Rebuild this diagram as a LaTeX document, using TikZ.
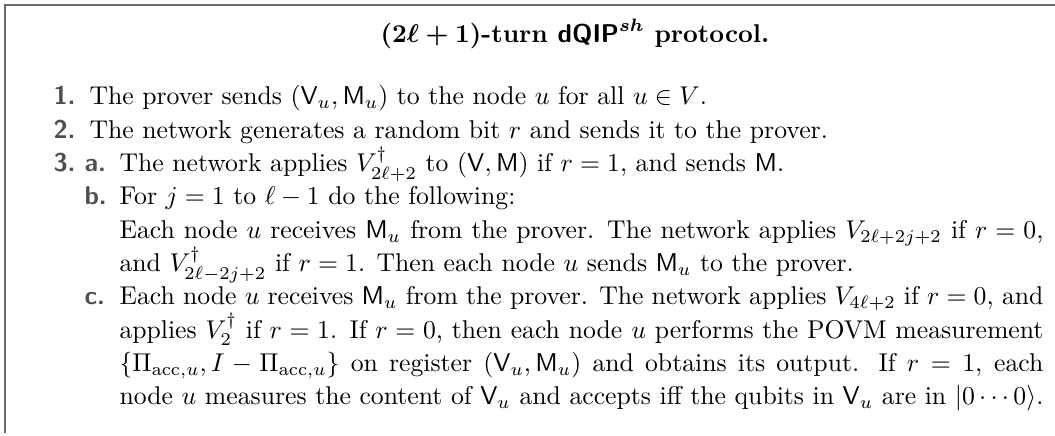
\documentclass[tikz,border=0pt]{standalone}
\usepackage{amsmath,amssymb}
\definecolor{labelgray}{RGB}{80,80,80}
\definecolor{bordergray}{RGB}{105,105,105}
\newcommand{\bodyfont}{\fontsize{10}{12.96}\selectfont}
\newcommand{\parone}[1]{\begin{minipage}[t]{371.2pt}\bodyfont #1\end{minipage}}
\newcommand{\partwo}[1]{\begin{minipage}[t]{359.5pt}\bodyfont #1\end{minipage}}
\begin{document}
\begin{tikzpicture}[x=0.3891pt,y=-0.3891pt,
  lbl/.style={anchor=base west, inner sep=0pt, font=\sffamily\bfseries\fontsize{10}{12}\selectfont, text=labelgray},
  body/.style={anchor=base west, inner sep=0pt},
  frame/.style={draw=bordergray, line width=0.8pt}]
\useasboundingbox (0,0) rectangle (1055,436);
\coordinate (tr) at (1056,5);
\coordinate (tl) at (5,5);
\coordinate (bl) at (5,433);
\draw[frame] (tr) -- (tl) -- (bl);
\node[anchor=base, inner sep=0pt, font=\bfseries\boldmath] (title) at (575,43)
  {($2\ell+1$)-turn $\mathsf{dQIP}^{sh}$ protocol.};
\node[lbl] (l1) at (53,105) {1.};
\node[body] (t1) at (89,105) {\parone{The prover sends $(\mathsf{V}_u,\mathsf{M}_u)$ to the node $u$ for all $u\in V$.}};
\node[lbl] (l2) at (53,138.3) {2.};
\node[body] (t2) at (89,138.3) {\parone{The network generates a random bit $r$ and sends it to the prover.}};
\node[lbl] (l3) at (53,171.6) {3.};
\node[lbl] (la) at (84,171.6) {a.};
\node[body] (ta) at (119,171.6) {\partwo{The network applies $V^\dagger_{2\ell+2}$ to $(\mathsf{V},\mathsf{M})$ if $r=1$, and sends $\mathsf{M}$.}};
\node[lbl] (lb) at (84,205) {b.};
\node[body] (tb) at (119,205) {\partwo{For $j=1$ to $\ell-1$ do the following:\\
Each node $u$ receives $\mathsf{M}_u$ from the prover. The network applies $V_{2\ell+2j+2}$ if $r=0$,\linebreak
and $V^\dagger_{2\ell-2j+2}$ if $r=1$. Then each node $u$ sends $\mathsf{M}_u$ to the prover.}};
\node[lbl] (lc) at (84,305) {c.};
\node[body] (tc) at (119,305) {\partwo{\parfillskip=0pt Each node $u$ receives $\mathsf{M}_u$ from the prover. The network applies $V_{4\ell+2}$ if $r=0$, and\linebreak
applies $V^\dagger_2$ if $r=1$. If $r=0$, then each node $u$ performs the POVM measurement\linebreak
$\{\Pi_{\mathrm{acc},u}, I-\Pi_{\mathrm{acc},u}\}$ on register $(\mathsf{V}_u,\mathsf{M}_u)$ and obtains its output. If $r=1$, each\linebreak
node $u$ measures the content of $\mathsf{V}_u$ and accepts iff the qubits in $\mathsf{V}_u$ are in $\lvert 0\cdots 0\rangle$.}};
\end{tikzpicture}
\end{document}
